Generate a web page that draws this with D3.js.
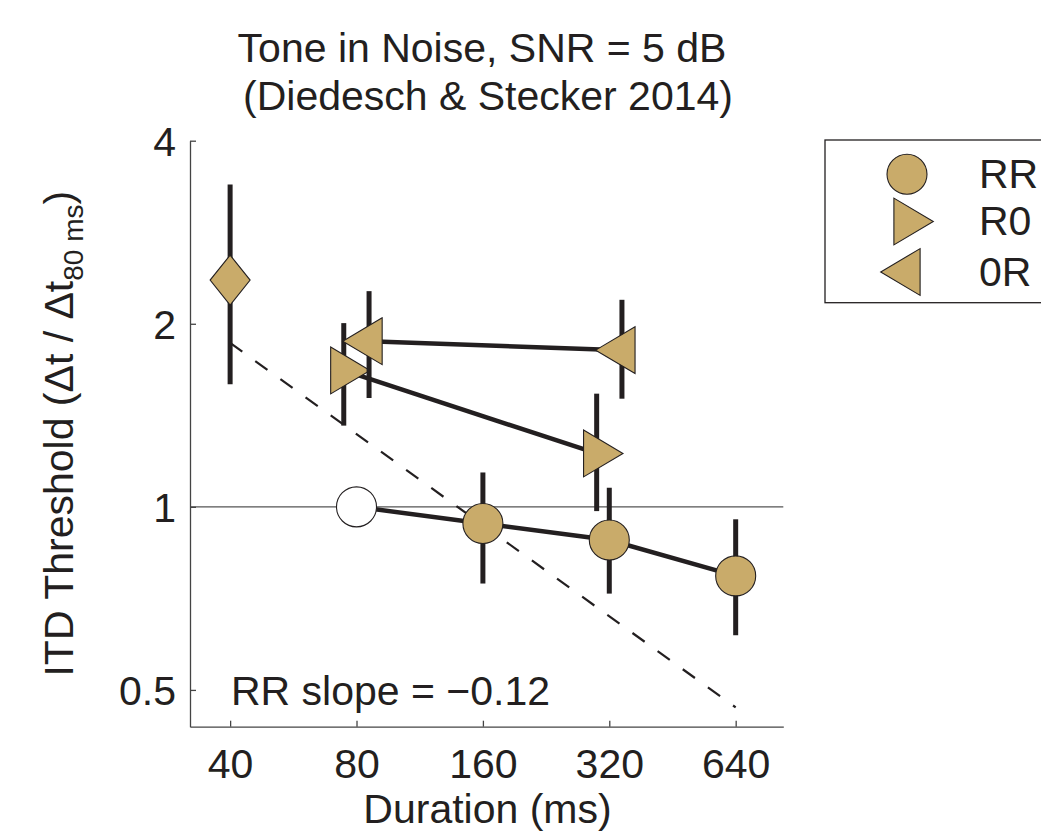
<!DOCTYPE html>
<html>
<head>
<meta charset="utf-8">
<script src="https://cdn.jsdelivr.net/npm/d3@7"></script>
<style>
  html, body { margin: 0; padding: 0; background: #fff; }
  svg { display: block; font-family: "Liberation Sans", Arial, sans-serif; }
</style>
</head>
<body>
<svg id="chart" width="1041" height="840"></svg>
<script>
// ---------- data ----------
const xTickValues = [40, 80, 160, 320, 640];
const yTickValues = [0.5, 1, 2, 4];

const rrX  = [80, 160, 320, 640];
const rrY  = [1.0, 0.939, 0.882, 0.77];
const rrLo = [null, 0.748, 0.72, 0.615];
const rrHi = [null, 1.139, 1.075, 0.954];

const r0X  = [74.6, 298.6];
const r0Y  = [1.676, 1.224];
const r0Lo = [1.36, 0.984];
const r0Hi = [2.005, 1.535];

const orX  = [85.7, 343];
const orY  = [1.872, 1.81];
const orLo = [1.51, 1.506];
const orHi = [2.263, 2.19];

const diaX  = [40];
const diaY  = [2.36];
const diaLo = [1.59];
const diaHi = [3.39];

const dashX = [40, 640];
const dashY = [1.86, 0.468];

const legendLabels = ["RR", "R0", "0R"];
const titleLines = ["Tone in Noise, SNR = 5 dB", "(Diedesch & Stecker 2014)"];

// ---------- style ----------
const FILL = "#C9AB6A";
const INK = "#231f20";
const FONT = 41;

const svg = d3.select("#chart");

const x = d3.scaleLog().base(2).domain([32.1, 831]).range([190, 783.3]);
const y = d3.scaleLog().base(2).domain([0.435, 4]).range([726.7, 140.7]);

// reference line at 1
svg.append("line")
  .attr("x1", x.range()[0]).attr("x2", x.range()[1])
  .attr("y1", y(1)).attr("y2", y(1))
  .attr("stroke", "#555").attr("stroke-width", 1.2);

// axes
const xAxis = d3.axisBottom(x).tickValues(xTickValues).tickFormat(d3.format("d"))
  .tickSizeInner(-6).tickSizeOuter(0).tickPadding(22);
const yAxis = d3.axisLeft(y).tickValues(yTickValues).tickFormat(d => String(d))
  .tickSizeInner(-6).tickSizeOuter(0).tickPadding(14);

const gx = svg.append("g").attr("transform", `translate(0,${y.range()[0]})`).call(xAxis);
const gy = svg.append("g").attr("transform", `translate(${x.range()[0]},0)`).call(yAxis);
[gx, gy].forEach(g => {
  g.select(".domain").attr("stroke", "#444").attr("stroke-width", 1.3);
  g.selectAll(".tick line").attr("stroke", "#444").attr("stroke-width", 1.3);
  g.selectAll(".tick text").attr("font-size", FONT).attr("fill", INK)
    .attr("font-family", '"Liberation Sans", Arial, sans-serif');
});
gy.selectAll(".tick text").attr("dy", "0.36em");

// dashed line
svg.append("path")
  .attr("d", d3.line().x((d, i) => x(dashX[i])).y(d => y(d))(dashY))
  .attr("fill", "none").attr("stroke", INK).attr("stroke-width", 2.2)
  .attr("stroke-dasharray", "15,16");

// marker shapes
const shapes = {
  circle: "M20,0A20,20 0 1,1 -20,0A20,20 0 1,1 20,0Z",
  right: "M-13.1,-23.4L26.3,0L-13.1,23.4Z",
  left: "M13.1,-23.4L-26.3,0L13.1,23.4Z",
  diamond: "M0,-25L20,0L0,25L-20,0Z"
};

function drawSeries(xs, ys, lo, hi, shape, fills, connect) {
  const g = svg.append("g");
  xs.forEach((xv, i) => {
    if (lo[i] == null) return;
    g.append("line")
      .attr("x1", x(xv)).attr("x2", x(xv))
      .attr("y1", y(lo[i])).attr("y2", y(hi[i]))
      .attr("stroke", INK).attr("stroke-width", 5);
  });
  if (connect) {
    g.append("path")
      .attr("d", d3.line().x((d, i) => x(xs[i])).y(d => y(d))(ys))
      .attr("fill", "none").attr("stroke", INK).attr("stroke-width", 4.5);
  }
  xs.forEach((xv, i) => {
    g.append("path")
      .attr("d", shapes[shape])
      .attr("transform", `translate(${x(xv)},${y(ys[i])})`)
      .attr("fill", fills ? fills[i] : FILL)
      .attr("stroke", INK).attr("stroke-width", 1.1);
  });
}

drawSeries(diaX, diaY, diaLo, diaHi, "diamond", null, false);
drawSeries(rrX, rrY, rrLo, rrHi, "circle", ["#fff", FILL, FILL, FILL], true);
drawSeries(r0X, r0Y, r0Lo, r0Hi, "right", null, true);
drawSeries(orX, orY, orLo, orHi, "left", null, true);

// annotation
svg.append("text")
  .attr("x", 231).attr("y", 705)
  .attr("font-size", FONT).attr("fill", INK)
  .text("RR slope = \u22120.12");

// title
svg.append("text").attr("x", 482).attr("y", 61.7)
  .attr("text-anchor", "middle").attr("font-size", FONT).attr("fill", INK)
  .text(titleLines[0]);
svg.append("text").attr("x", 488).attr("y", 110)
  .attr("text-anchor", "middle").attr("font-size", FONT).attr("fill", INK)
  .text(titleLines[1]);

// x label
svg.append("text").attr("x", 487.5).attr("y", 823.3)
  .attr("text-anchor", "middle").attr("font-size", FONT).attr("fill", INK)
  .text("Duration (ms)");

// y label
const yl = svg.append("text")
  .attr("transform", `translate(73,${(y.range()[0] + y.range()[1]) / 2}) rotate(-90)`)
  .attr("text-anchor", "middle").attr("font-size", FONT).attr("fill", INK);
yl.append("tspan").text("ITD Threshold (\u0394t / \u0394t");
yl.append("tspan").attr("font-size", 28).attr("dy", 10).text("80 ms");
yl.append("tspan").attr("dy", -10).text(")");

// legend
const lg = svg.append("g");
lg.append("rect").attr("x", 825).attr("y", 140).attr("width", 240).attr("height", 162.7)
  .attr("fill", "#fff").attr("stroke", INK).attr("stroke-width", 1.3);
const legendShapes = ["circle", "right", "left"];
const legendY = [174.3, 221.5, 272];
legendLabels.forEach((lab, i) => {
  lg.append("path").attr("d", shapes[legendShapes[i]])
    .attr("transform", `translate(907,${legendY[i]})`)
    .attr("fill", FILL).attr("stroke", INK).attr("stroke-width", 1.1);
  lg.append("text").attr("x", 979).attr("y", legendY[i] + 13.5)
    .attr("font-size", FONT).attr("fill", INK).text(lab);
});
</script>
</body>
</html>
